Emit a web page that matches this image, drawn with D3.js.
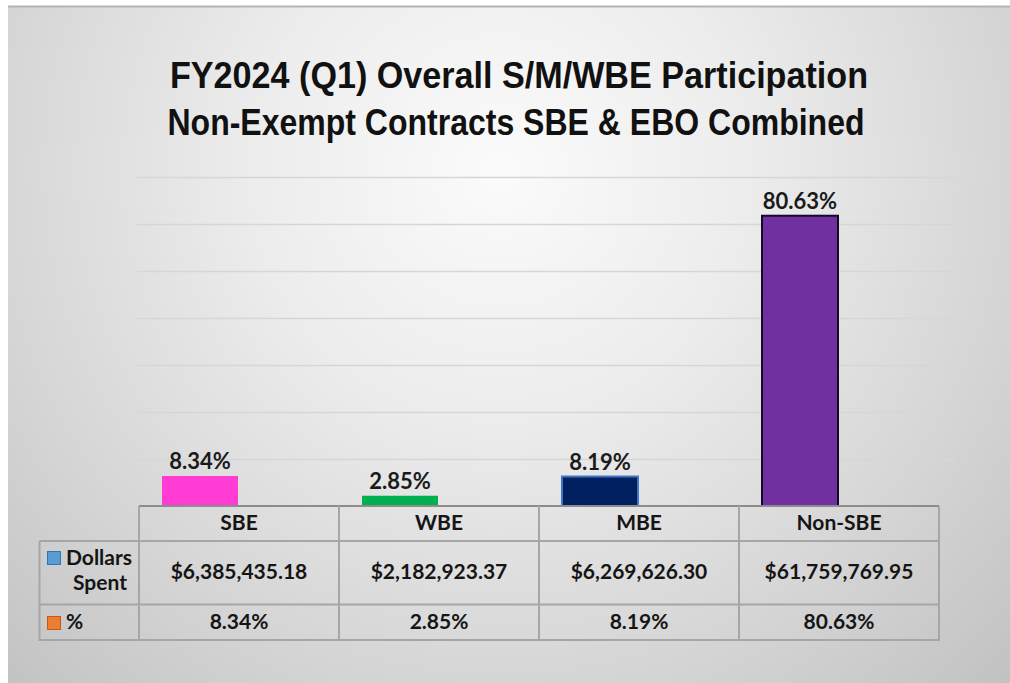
<!DOCTYPE html>
<html>
<head>
<meta charset="utf-8">
<script src="https://cdn.jsdelivr.net/npm/d3@7"></script>
<style>
  html, body { margin: 0; padding: 0; background: #ffffff; }
  svg { display: block; }
</style>
</head>
<body>
<svg id="chart" width="1010" height="683"></svg>
<script>
// ---- data ----
const categories = ["SBE", "WBE", "MBE", "Non-SBE"];
const dollarsSpent = [6385435.18, 2182923.37, 6269626.30, 61759769.95];
const percentLabels = ["8.34%", "2.85%", "8.19%", "80.63%"];
const dollarLabels = ["$6,385,435.18", "$2,182,923.37", "$6,269,626.30", "$61,759,769.95"];
const barColors = ["#ff3dd4", "#00b050", "#002060", "#7030a0"];
const barStrokes = ["none", "none", "#4472c4", "#140a28"];
const yTicks = [0, 10000000, 20000000, 30000000, 40000000, 50000000, 60000000, 70000000];
const titleLines = ["FY2024 (Q1) Overall S/M/WBE Participation", "Non-Exempt Contracts SBE & EBO Combined"];
const legendRows = [["Dollars", "Spent"], ["%"]];
const legendColors = [["#5b9bd5", "#2e75b6"], ["#ed7d31", "#c55a11"]];

const svg = d3.select("#chart");
const W = 1010, H = 683;

// ---- background ----
const defs = svg.append("defs");
const rg = defs.append("radialGradient").attr("id", "bg")
  .attr("gradientUnits", "userSpaceOnUse")
  .attr("cx", 500).attr("cy", 170).attr("r", 720)
  .attr("fx", 500).attr("fy", 170);
rg.append("stop").attr("offset", "0%").attr("stop-color", "#fbfbfb");
rg.append("stop").attr("offset", "35%").attr("stop-color", "#ececec");
rg.append("stop").attr("offset", "70%").attr("stop-color", "#d6d6d6");
rg.append("stop").attr("offset", "100%").attr("stop-color", "#c2c2c2");

svg.append("rect").attr("x", 0).attr("y", 0).attr("width", W).attr("height", H).attr("fill", "#ffffff");
svg.append("rect").attr("x", 8).attr("y", 6).attr("width", W - 8).attr("height", H - 6).attr("fill", "url(#bg)");
svg.append("line").attr("x1", 8).attr("x2", W).attr("y1", 6.5).attr("y2", 6.5)
  .attr("stroke", "#b4b4b4").attr("stroke-width", 2);

// ---- title ----
const titleFont = "'Liberation Sans', Arial, sans-serif";
const titleG = svg.append("g");
const titleLayout = [{x: 519, y: 88, w: 698}, {x: 516, y: 135, w: 697}];
titleLayout.forEach((t, i) => {
  titleG.append("text")
    .attr("x", t.x).attr("y", t.y)
    .attr("text-anchor", "middle")
    .attr("font-family", titleFont)
    .attr("font-weight", "bold")
    .attr("font-size", 36)
    .attr("textLength", t.w)
    .attr("lengthAdjust", "spacingAndGlyphs")
    .attr("fill", "#111111")
    .text(titleLines[i]);
});

// ---- scales ----
const baseY = 506;
const y = d3.scaleLinear().domain([0, 70000000]).range([baseY, 177]);
const x = d3.scaleBand().domain(categories).range([100, 900]).paddingInner(0.62).paddingOuter(0.31);

// gridlines
const grid = svg.append("g");
grid.selectAll("line").data(yTicks.slice(1)).join("line")
  .attr("x1", 137).attr("x2", 955)
  .attr("y1", d => Math.round(y(d)) + 0.5).attr("y2", d => Math.round(y(d)) + 0.5)
  .attr("stroke", "#d6d6d6").attr("stroke-width", 1.5);

// bars
svg.append("g").selectAll("rect").data(categories).join("rect")
  .attr("x", d => x(d))
  .attr("width", x.bandwidth())
  .attr("y", (d, i) => y(dollarsSpent[i]))
  .attr("height", (d, i) => baseY - y(dollarsSpent[i]))
  .attr("fill", (d, i) => barColors[i])
  .attr("stroke", (d, i) => barStrokes[i])
  .attr("stroke-width", 2);

// data labels
const labelFont = "Lato, 'Open Sans', sans-serif";
svg.append("g").selectAll("text").data(categories).join("text")
  .attr("x", d => x(d) + x.bandwidth() / 2)
  .attr("y", (d, i) => y(dollarsSpent[i]) - 7)
  .attr("text-anchor", "middle")
  .attr("font-family", labelFont)
  .attr("font-size", 22)
  .attr("font-weight", "bold")
  .attr("fill", "#1a1a1a")
  .text((d, i) => percentLabels[i]);

// ---- data table ----
const colX = d3.scaleBand().domain(categories).range([139, 939]);
const legX = 39.5;
const tbl = svg.append("g");
const gridColor = "#a6a6a6";

tbl.append("line").attr("x1", 139).attr("x2", 939).attr("y1", 506).attr("y2", 506)
  .attr("stroke", "#8c8c8c").attr("stroke-width", 2);
[541, 604.5, 640].forEach(yy => {
  tbl.append("line").attr("x1", legX).attr("x2", 939).attr("y1", yy).attr("y2", yy)
    .attr("stroke", gridColor).attr("stroke-width", 2);
});
[139, 339, 539, 739, 939].forEach(xx => {
  tbl.append("line").attr("x1", xx).attr("x2", xx).attr("y1", 506).attr("y2", 641)
    .attr("stroke", gridColor).attr("stroke-width", 2);
});
tbl.append("line").attr("x1", legX).attr("x2", legX).attr("y1", 541).attr("y2", 641)
  .attr("stroke", gridColor).attr("stroke-width", 2);

const cellFont = "Lato, 'Open Sans', sans-serif";
const cellSize = 21;
function cellText(cls, yy, fn) {
  tbl.selectAll("text." + cls).data(categories).join("text").attr("class", cls)
    .attr("x", d => colX(d) + colX.bandwidth() / 2).attr("y", yy)
    .attr("text-anchor", "middle").attr("font-family", cellFont)
    .attr("font-size", cellSize).attr("font-weight", "bold").attr("fill", "#151515")
    .text(fn);
}
cellText("hdr", 530, d => d);
cellText("dol", 579, (d, i) => dollarLabels[i]);
cellText("pct", 629, (d, i) => percentLabels[i]);

// legend cells
const legSq = [551, 616];
legendRows.forEach((lines, r) => {
  tbl.append("rect").attr("x", 47.5).attr("y", legSq[r] + 0.5).attr("width", 13).attr("height", 13)
    .attr("fill", legendColors[r][0]).attr("stroke", legendColors[r][1]).attr("stroke-width", 1);
});
tbl.append("text").attr("x", 99).attr("y", 565).attr("text-anchor", "middle")
  .attr("font-family", cellFont).attr("font-size", cellSize).attr("font-weight", "bold").attr("fill", "#151515")
  .text(legendRows[0][0]);
tbl.append("text").attr("x", 100).attr("y", 590).attr("text-anchor", "middle")
  .attr("font-family", cellFont).attr("font-size", cellSize).attr("font-weight", "bold").attr("fill", "#151515")
  .text(legendRows[0][1]);
tbl.append("text").attr("x", 66).attr("y", 629).attr("text-anchor", "start")
  .attr("font-family", cellFont).attr("font-size", cellSize).attr("font-weight", "bold").attr("fill", "#151515")
  .text(legendRows[1][0]);
</script>
</body>
</html>
